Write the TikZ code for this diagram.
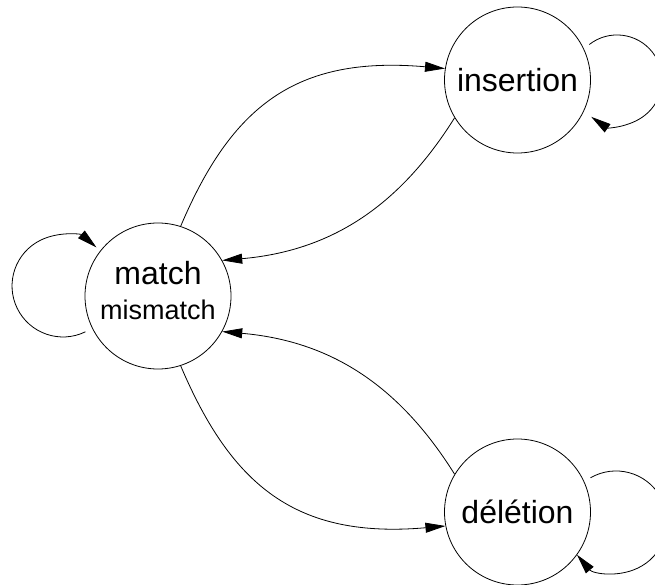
\documentclass[tikz,border=0pt]{standalone}
\usepackage{fontspec}
\setmainfont{Liberation Sans}
\usetikzlibrary{arrows.meta}
\begin{document}
\begin{tikzpicture}[x=1pt,y=1pt,
  state/.style={draw, circle, minimum size=146pt, inner sep=0pt,
    line width=0.8pt, font=\fontsize{32}{35.5}\selectfont},
  edge/.style={line width=0.8pt, -{Triangle[length=20pt,width=10pt]}}]
\useasboundingbox (0,0) rectangle (655,584);
\clip (0,0) rectangle (655,584);

% states
\node[state] (i) at (517.5,504) {insertion};
\node[state] (d) at (517.5,72) {délétion};
\node[state, align=center, text height=58.5pt, text depth=11.5pt] (m) at (158,288)
  {match\\{\fontsize{27}{35.5}\selectfont mismatch}};

% transitions between states
\draw[edge] (m.72) to[out=67,in=175,out distance=130pt,in distance=150pt] (i.171);
\draw[edge] (i.211) to[out=238,in=5,distance=107pt] (m.29);
\draw[edge] (m.-72) to[out=-67,in=185,out distance=130pt,in distance=150pt] (d.191);
\draw[edge] (d.149) to[out=122,in=-5,distance=107pt] (m.-29);

% self loops
\coordinate (mloop) at (85.4,252.2);
\coordinate (iloop) at (589.3,539.5);
\coordinate (dloop) at (590.5,106.2);
\draw[edge] (mloop) arc[start angle=-64, end angle=-311, radius=51pt];
\draw[edge] (iloop) arc[start angle=128, end angle=-125, radius=45pt];
\draw[edge] (dloop) arc[start angle=120, end angle=-140, radius=51pt];
\end{tikzpicture}
\end{document}
